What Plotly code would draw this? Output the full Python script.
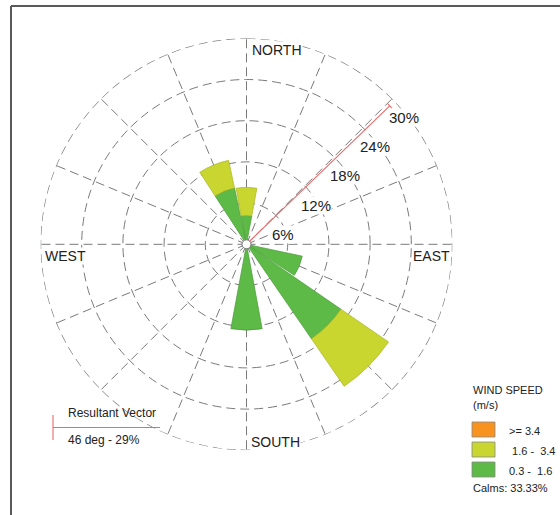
import math
import plotly.graph_objects as go

# ---- data -------------------------------------------------------------
DIRECTIONS = ["N", "NNE", "NE", "ENE", "E", "ESE", "SE", "SSE",
              "S", "SSW", "SW", "WSW", "W", "WNW", "NW", "NNW"]
# frequency (%) per direction for each wind-speed class
FREQ_03_16 = [4.2, 0, 0, 0, 0, 8.3, 16.7, 0, 12.5, 0, 0, 0, 0, 0, 0, 8.4]
FREQ_16_34 = [4.1, 0, 0, 0, 0, 0, 8.4, 0, 0, 0, 0, 0, 0, 0, 0, 4.1]
FREQ_GE_34 = [0] * 16
CLASS_LABELS = [">= 3.4", " 1.6 -  3.4", "0.3 -  1.6"]
RING_VALUES = [6, 12, 18, 24, 30]
RING_LABELS = ["6%", "12%", "18%", "24%", "30%"]
CALMS_PCT = 33.33
RESULTANT_DEG = 46
RESULTANT_PCT = 29

# ---- styling -----------------------------------------------------------
W, H = 560, 515
CX, CY, RPX = 246.5, 244.3, 206.0          # polar centre / radius in pixels
RMAX = 30
GREEN, YELLOW, ORANGE = "#5dba47", "#c9d62f", "#f7931e"
GRID = "#7a7a7a"
GRID_W = 1.3
GRID_DASH = "9px,5px"
TXT = "#222222"
RED = "#e86a6a"
FONT = "Liberation Sans, Arial, sans-serif"


def px(x):
    return x / W


def py(y):
    return 1 - y / H


step = 360 / len(DIRECTIONS)
theta = [i * step for i in range(len(DIRECTIONS))]

fig = go.Figure()

# dashed outer ring (the radial grid stops short of the axis edge)
ring_theta = [i * 2 for i in range(181)]
fig.add_trace(go.Scatterpolar(r=[RMAX] * len(ring_theta), theta=ring_theta, mode="lines",
                              line=dict(color=GRID, width=GRID_W, dash=GRID_DASH),
                              showlegend=False, hoverinfo="skip"))

for vals, col, edge in [(FREQ_03_16, GREEN, "#4b9a3a"),
                        (FREQ_16_34, YELLOW, "#a9b429"),
                        (FREQ_GE_34, ORANGE, "#c9741a")]:
    fig.add_trace(go.Barpolar(r=vals, theta=theta, width=21,
                              marker=dict(color=col, line=dict(color=edge, width=0.7)),
                              showlegend=False, hoverinfo="skip"))

# resultant vector with a short cross tick at its tip
fig.add_trace(go.Scatterpolar(r=[0, RESULTANT_PCT], theta=[RESULTANT_DEG, RESULTANT_DEG],
                              mode="lines", line=dict(color=RED, width=1.1),
                              showlegend=False, hoverinfo="skip"))
half = 3.5 * RMAX / RPX
dt = math.degrees(math.atan(half / RESULTANT_PCT))
rt = math.hypot(RESULTANT_PCT, half)
fig.add_trace(go.Scatterpolar(r=[rt, rt], theta=[RESULTANT_DEG - dt, RESULTANT_DEG + dt],
                              mode="lines", line=dict(color=RED, width=1.1),
                              showlegend=False, hoverinfo="skip"))

# small hub at the centre
fig.add_trace(go.Scatterpolar(r=[0], theta=[0], mode="markers",
                              marker=dict(size=9, color="white", line=dict(color="#777", width=1)),
                              showlegend=False, hoverinfo="skip"))

fig.update_layout(
    width=W, height=H, autosize=False,
    margin=dict(l=0, r=0, t=0, b=0),
    paper_bgcolor="white", plot_bgcolor="white",
    font=dict(family=FONT, color=TXT),
    polar=dict(
        domain=dict(x=[px(CX - RPX), px(CX + RPX)], y=[py(CY + RPX), py(CY - RPX)]),
        bgcolor="white",
        barmode="stack",
        radialaxis=dict(range=[0, RMAX], tickvals=RING_VALUES, showticklabels=False,
                        ticks="", showline=False, gridcolor=GRID, gridwidth=GRID_W,
                        griddash=GRID_DASH),
        angularaxis=dict(direction="clockwise", rotation=90, tickvals=theta,
                         showticklabels=False, ticks="", showline=False,
                         gridcolor=GRID, gridwidth=GRID_W, griddash=GRID_DASH),
    ),
)

ann = []
# ring labels
for v, lab in zip(RING_VALUES, RING_LABELS):
    rp = RPX * v / RMAX
    x = CX + rp * math.sin(math.radians(45)) - 4.5
    y = CY - rp * math.cos(math.radians(45)) + 19
    ann.append(dict(x=px(x), y=py(y), xref="paper", yref="paper", text=lab,
                    showarrow=False, xanchor="left", yanchor="middle",
                    font=dict(size=15, color=TXT), bgcolor="white", borderpad=0))

# compass labels
for text, x, y, xa in [("NORTH", CX + 4, CY - RPX + 12, "left"),
                       ("WEST", CX - RPX + 3.5, CY + 12, "left"),
                       ("EAST", CX + RPX - 2, CY + 12, "right"),
                       ("SOUTH", CX + 3.5, CY + RPX - 8, "left")]:
    ann.append(dict(x=px(x), y=py(y), xref="paper", yref="paper", text=text,
                    showarrow=False, xanchor=xa, yanchor="middle",
                    font=dict(size=14, color=TXT), bgcolor="white", borderpad=0))

# resultant vector legend
ann.append(dict(x=px(66), y=py(413), xref="paper", yref="paper", text="Resultant Vector",
                showarrow=False, xanchor="left", yanchor="middle", font=dict(size=12, color=TXT)))
ann.append(dict(x=px(66), y=py(439.5), xref="paper", yref="paper",
                text=f"{RESULTANT_DEG} deg - {RESULTANT_PCT}%",
                showarrow=False, xanchor="left", yanchor="middle", font=dict(size=12, color=TXT)))

# wind speed legend
ann.append(dict(x=px(471), y=py(390), xref="paper", yref="paper", text="WIND SPEED",
                showarrow=False, xanchor="left", yanchor="middle", font=dict(size=11, color=TXT)))
ann.append(dict(x=px(471), y=py(405), xref="paper", yref="paper", text="(m/s)",
                showarrow=False, xanchor="left", yanchor="middle", font=dict(size=11, color=TXT)))
shapes = []
for i, (lab, col) in enumerate(zip(CLASS_LABELS, [ORANGE, YELLOW, GREEN])):
    y0 = 422 + i * 20
    shapes.append(dict(type="rect", xref="paper", yref="paper",
                       x0=px(472), x1=px(495), y0=py(y0), y1=py(y0 + 15),
                       fillcolor=col, line=dict(color="#888", width=0.8)))
    ann.append(dict(x=px(506.5), y=py(y0 + 8.5), xref="paper", yref="paper", text=lab,
                    showarrow=False, xanchor="left", yanchor="middle",
                    font=dict(size=11, color=TXT)))
ann.append(dict(x=px(471), y=py(487.5), xref="paper", yref="paper",
                text=f"Calms: {CALMS_PCT:.2f}%",
                showarrow=False, xanchor="left", yanchor="middle", font=dict(size=11, color=TXT)))

# resultant legend glyph
shapes.append(dict(type="line", xref="paper", yref="paper", x0=px(53), x1=px(160),
                   y0=py(427.5), y1=py(427.5), line=dict(color=RED, width=1.1)))
shapes.append(dict(type="line", xref="paper", yref="paper", x0=px(53), x1=px(53),
                   y0=py(415), y1=py(440), line=dict(color=RED, width=1.1)))

# frame
shapes.append(dict(type="line", xref="paper", yref="paper", x0=px(11), x1=px(W + 5),
                   y0=py(6), y1=py(6), line=dict(color="#5a5a5a", width=2)))
shapes.append(dict(type="line", xref="paper", yref="paper", x0=px(11), x1=px(11),
                   y0=py(6), y1=py(H + 5), line=dict(color="#5a5a5a", width=2)))

fig.update_layout(annotations=ann, shapes=shapes)
fig.write_html("out.html")
